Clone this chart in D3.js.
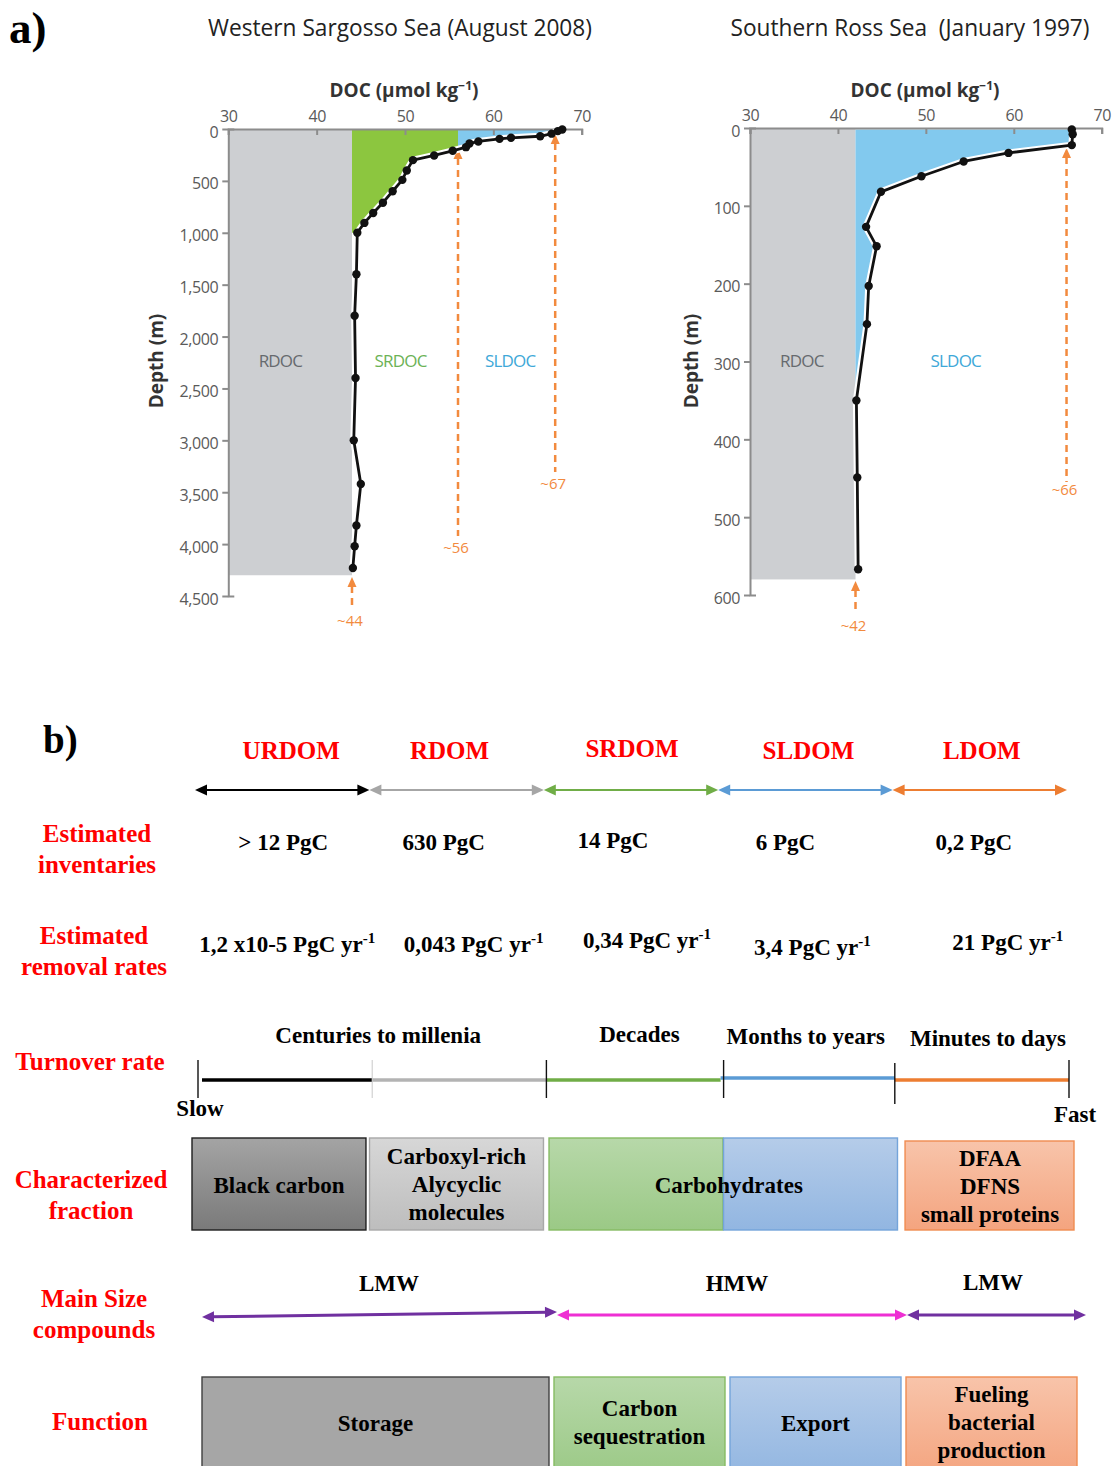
<!DOCTYPE html>
<html>
<head>
<meta charset="utf-8">
<script src="https://cdn.jsdelivr.net/npm/d3@7"></script>
<style>
  body { margin: 0; background: #fff; }
  svg { display: block; }
</style>
</head>
<body>
<svg id="fig" width="1118" height="1466"></svg>
<script>
// ---------------- Panel a: DOC depth profiles ----------------
const docTicks = [30, 40, 50, 60, 70];

// Western Sargasso Sea, August 2008 (depth in m, DOC in µmol kg-1)
const sargassoDepth = [5, 20, 45, 70, 85, 95, 120, 140, 175, 210, 255, 300, 400, 490, 600, 710, 810, 905,
                       1000, 1400, 1800, 2400, 3000, 3420, 3820, 4020, 4230];
const sargassoDOC   = [67.8, 67.3, 66.6, 65.3, 62.0, 60.7, 58.3, 57.3, 56.9, 55.4, 53.3, 50.9, 50.2, 49.7, 48.6, 47.5, 46.4, 45.4,
                       44.6, 44.5, 44.3, 44.4, 44.2, 45.0, 44.5, 44.3, 44.1];
const sargassoDepthTicks = [0, 500, 1000, 1500, 2000, 2500, 3000, 3500, 4000, 4500];
const sargassoPools = ["RDOC", "SRDOC", "SLDOC"];
const sargassoMarkers = [44, 56, 67];

// Southern Ross Sea, January 1997
const rossDepth = [2, 8, 22, 32, 43, 62, 82, 127, 152, 203, 252, 350, 449, 567];
const rossDOC   = [66.6, 66.7, 66.6, 59.4, 54.3, 49.5, 44.9, 43.2, 44.4, 43.5, 43.3, 42.1, 42.2, 42.3];
const rossDepthTicks = [0, 100, 200, 300, 400, 500, 600];
const rossPools = ["RDOC", "SLDOC"];
const rossMarkers = [42, 66];

// ---------------- Panel b: DOM pools summary ----------------
const pools = ["URDOM", "RDOM", "SRDOM", "SLDOM", "LDOM"];
const inventories = ["> 12 PgC", "630 PgC", "14 PgC", "6 PgC", "0,2 PgC"];
const removalRates = ["1,2 x10-5", "0,043", "0,34", "3,4", "21"];
const turnoverLabels = ["Centuries to millenia", "Decades", "Months to years", "Minutes to days"];
const turnoverSpans = [["URDOM", "RDOM"], ["SRDOM", "SRDOM"], ["SLDOM", "SLDOM"], ["LDOM", "LDOM"]];
const fractionBoxes = [["Black carbon"], ["Carboxyl-rich", "Alycyclic", "molecules"], [], [], ["DFAA", "DFNS", "small proteins"]];
const sharedFraction = "Carbohydrates";
const sizeClasses = ["LMW", "HMW", "LMW"];
const sizeSpans = [["URDOM", "RDOM"], ["SRDOM", "SLDOM"], ["LDOM", "LDOM"]];
const functionLabels = [["Storage"], ["Carbon", "sequestration"], ["Export"], ["Fueling", "bacterial", "production"]];
const functionSpans = [["URDOM", "RDOM"], ["SRDOM", "SRDOM"], ["SLDOM", "SLDOM"], ["LDOM", "LDOM"]];
const rowLabels = [["Estimated", "inventaries"], ["Estimated", "removal rates"], ["Turnover rate"],
                   ["Characterized", "fraction"], ["Main Size", "compounds"], ["Function"]];

// ---------------- drawing ----------------
const svg = d3.select("#fig");
const sans = "'Open Sans', 'Noto Sans', sans-serif";
const serif = "'Liberation Serif', 'Times New Roman', serif";
const defs = svg.append("defs");

const poolFill = { RDOC: "#cdcfd2", SRDOC: "#8cc63f", SLDOC: "#82c9ee" };
const poolText = { RDOC: "#666a6e", SRDOC: "#6cb256", SLDOC: "#3ea8d8" };
const markerColor = "#f28a3e";

// panel letters
svg.append("text").attr("x", 9).attr("y", 43).text("a)")
  .style("font-family", serif).style("font-weight", "bold").style("font-size", "45px");
svg.append("text").attr("x", 43).attr("y", 753).text("b)")
  .style("font-family", serif).style("font-weight", "bold").style("font-size", "39px");

function drawProfile(o) {
  const g = svg.append("g");
  const x = d3.scaleLinear().domain([30, 70]).range(o.xRange);
  const y = d3.scaleLinear().domain([0, o.depthTicks[o.depthTicks.length - 1]]).range(o.yRange);
  const pts = o.depth.map((d, i) => ({ depth: d, doc: o.doc[i] }));
  const rdoc = o.markers[0];

  // station title
  g.append("text").attr("x", o.titleX).attr("y", 36).text(o.title)
    .attr("text-anchor", "middle").attr("textLength", o.titleLen).attr("lengthAdjust", "spacingAndGlyphs")
    .style("white-space", "pre").style("font-family", sans).style("font-size", "23px").style("fill", "#222");

  // refractory background block
  g.append("rect").attr("x", x(30)).attr("y", y(0))
    .attr("width", x(rdoc) - x(30)).attr("height", y(o.rdocBottom) - y(0))
    .attr("fill", poolFill.RDOC);

  // excess DOC above the refractory level
  const excess = pts.filter(p => p.depth <= o.excessDepth);
  const area = d3.area().y(p => y(p.depth)).x0(x(rdoc)).x1(p => x(p.doc));
  if (o.split != null) {
    const idA = o.id + "-semi", idB = o.id + "-labile";
    defs.append("clipPath").attr("id", idA).append("rect")
      .attr("x", x(rdoc)).attr("y", 0).attr("width", x(o.split) - x(rdoc)).attr("height", 1466);
    defs.append("clipPath").attr("id", idB).append("rect")
      .attr("x", x(o.split)).attr("y", 0).attr("width", 600).attr("height", 1466);
    g.append("path").datum(excess).attr("d", area).attr("fill", poolFill.SRDOC).attr("clip-path", `url(#${idA})`);
    g.append("path").datum(excess).attr("d", area).attr("fill", poolFill.SLDOC).attr("clip-path", `url(#${idB})`);
  } else {
    g.append("path").datum(excess).attr("d", area).attr("fill", poolFill.SLDOC);
  }

  // axes
  const axisColor = "#8c8c8c";
  const xAxis = d3.axisTop(x).tickValues(docTicks).tickSize(-6).tickSizeOuter(-6).tickPadding(7);
  const gx = g.append("g").attr("transform", `translate(0,${y(0)})`).call(xAxis);
  const yAxis = d3.axisLeft(y).tickValues(o.depthTicks).tickSize(6).tickSizeOuter(-6)
    .tickPadding(4).tickFormat(d3.format(","));
  const gy = g.append("g").attr("transform", `translate(${x(30)},0)`).call(yAxis);
  [gx, gy].forEach(a => {
    a.select(".domain").attr("stroke", axisColor).attr("stroke-width", 2);
    a.selectAll(".tick line").attr("stroke", axisColor).attr("stroke-width", 2);
    a.selectAll(".tick text").style("font-family", sans).style("font-size", "16px")
      .style("letter-spacing", "-0.4px").style("fill", "#5a5a5a");
  });
  gy.selectAll(".tick text").attr("dy", "0.5em");

  // axis titles
  const xt = g.append("text").attr("x", o.xTitleX).attr("y", 97).attr("text-anchor", "middle")
    .style("font-family", sans).style("font-weight", "bold").style("font-size", "19px").style("fill", "#333");
  xt.append("tspan").text("DOC (µmol kg");
  xt.append("tspan").text("−1").attr("dy", -7).style("font-size", "12px");
  xt.append("tspan").text(")").attr("dy", 7);
  g.append("text").attr("transform", `translate(${o.yTitleX},361) rotate(-90)`).attr("text-anchor", "middle")
    .text("Depth (m)").style("font-family", sans).style("font-weight", "bold").style("font-size", "19px").style("fill", "#333");

  // pool labels
  o.pools.forEach((p, i) => {
    g.append("text").attr("x", x(o.poolLabelDOC[i])).attr("y", 367).attr("text-anchor", "middle").text(p)
      .style("font-family", sans).style("font-size", "17px").style("letter-spacing", "-0.8px").style("fill", poolText[p]);
  });

  // dashed marker arrows for each pool boundary
  o.markers.forEach((m, i) => {
    const mx = x(m), [tip, base, labY] = o.markerY[i];
    g.append("line").attr("x1", mx).attr("x2", mx).attr("y1", tip + 9).attr("y2", base)
      .attr("stroke", markerColor).attr("stroke-width", 2.5).attr("stroke-dasharray", "7,5");
    g.append("path").attr("d", `M${mx},${tip}L${mx - 4.5},${tip + 10}L${mx + 4.5},${tip + 10}Z`).attr("fill", markerColor);
    g.append("text").attr("x", mx - 2).attr("y", labY).attr("text-anchor", "middle").text("~" + m)
      .style("font-family", sans).style("font-size", "15px").style("fill", markerColor);
  });

  // profile with white halo
  const line = d3.line().x(p => x(p.doc)).y(p => y(p.depth));
  g.append("path").datum(pts).attr("d", line).attr("fill", "none").attr("stroke", "#fff")
    .attr("stroke-width", 7).attr("stroke-linejoin", "round");
  g.append("path").datum(pts).attr("d", line).attr("fill", "none").attr("stroke", "#111")
    .attr("stroke-width", 2.8).attr("stroke-linejoin", "round");
  g.selectAll("circle.obs").data(pts).join("circle").attr("class", "obs")
    .attr("cx", p => x(p.doc)).attr("cy", p => y(p.depth)).attr("r", 4.2).attr("fill", "#111");
}

drawProfile({
  id: "sargasso", title: "Western Sargosso Sea (August 2008)", titleX: 400, titleLen: 384,
  depth: sargassoDepth, doc: sargassoDOC, depthTicks: sargassoDepthTicks,
  xRange: [228.3, 581.7], yRange: [129, 596], rdocBottom: 4300, excessDepth: 1000, split: 56,
  pools: sargassoPools, poolLabelDOC: [35.9, 49.5, 61.9], markers: sargassoMarkers,
  markerY: [[577, 606, 626], [149, 536, 553], [134, 472, 489]],
  xTitleX: 404, yTitleX: 163
});

drawProfile({
  id: "ross", title: "Southern Ross Sea  (January 1997)", titleX: 910, titleLen: 359,
  depth: rossDepth, doc: rossDOC, depthTicks: rossDepthTicks,
  xRange: [750, 1101.7], yRange: [128, 595], rdocBottom: 580, excessDepth: 350, split: null,
  pools: rossPools, poolLabelDOC: [35.9, 53.4], markers: rossMarkers,
  markerY: [[581, 612, 631], [148, 482, 495]],
  xTitleX: 925, yTitleX: 698
});

// ---------------- Panel b ----------------
const gb = svg.append("g");
const red = "#ff0000";
const blackTxt = (sel, size) => sel.style("font-family", serif).style("font-weight", "bold")
  .style("font-size", (size || 23) + "px").style("fill", "#000");
const poolColors = ["#000000", "#a6a6a6", "#70ad47", "#5b9bd5", "#ed7d31"];

function lines(g, arr, x, y0, lh, styler) {
  const t = g.append("text").attr("text-anchor", "middle");
  arr.forEach((s, i) => t.append("tspan").attr("x", x).attr("y", y0 + i * lh).text(s));
  styler(t);
  return t;
}
function dblArrow(g, x0, x1, y0, y1, color, w, hl, hw) {
  const a = Math.atan2(y1 - y0, x1 - x0), c = Math.cos(a), s = Math.sin(a);
  g.append("line").attr("x1", x0 + c * hl * 0.8).attr("y1", y0 + s * hl * 0.8)
    .attr("x2", x1 - c * hl * 0.8).attr("y2", y1 - s * hl * 0.8)
    .attr("stroke", color).attr("stroke-width", w);
  const head = (tx, ty, dir) => {
    const bx = tx + dir * c * hl, by = ty + dir * s * hl;
    g.append("path").attr("d", `M${tx},${ty}L${bx - s * hw},${by + c * hw}L${bx + s * hw},${by - c * hw}Z`).attr("fill", color);
  };
  head(x0, y0, 1);
  head(x1, y1, -1);
}

// column scale for the pool header rows
const col = d3.scaleBand().domain(pools).range([195, 1067]);
const mid = p => col(p) + col.bandwidth() / 2;

// row labels
const rowLabelPos = [[97, 842], [94, 944], [90, 1070], [91, 1188], [94, 1307], [100, 1430]];
rowLabels.forEach((r, i) => {
  lines(gb, r, rowLabelPos[i][0], rowLabelPos[i][1], 30.5, t => t.style("font-family", serif)
    .style("font-weight", "bold").style("font-size", "25px").style("fill", red));
});

// pool names
const headerShift = [[9, 759], [-7, 759], [1, 757], [3, 759], [2, 759]];
pools.forEach((p, i) => {
  gb.append("text").attr("x", mid(p) + headerShift[i][0]).attr("y", headerShift[i][1])
    .attr("text-anchor", "middle").text(p)
    .style("font-family", serif).style("font-weight", "bold").style("font-size", "25px").style("fill", red);
});

// coloured pool ranges
pools.forEach((p, i) => {
  dblArrow(gb, col(p), col(p) + col.bandwidth(), 790, 790, poolColors[i], 2.2, 12, 5.5);
});

// inventories
const invShift = [[1, 850], [-13, 850], [-18, 848], [-20, 850], [-6, 850]];
inventories.forEach((v, i) => {
  gb.append("text").attr("x", mid(pools[i]) + invShift[i][0]).attr("y", invShift[i][1])
    .attr("text-anchor", "middle").text(v).call(blackTxt);
});

// removal rates
const rateShift = [[5, 952], [17, 952], [16, 948], [7, 955], [28, 950]];
removalRates.forEach((v, i) => {
  const t = gb.append("text").attr("x", mid(pools[i]) + rateShift[i][0]).attr("y", rateShift[i][1])
    .attr("text-anchor", "middle").call(blackTxt);
  t.append("tspan").text(v + " PgC yr");
  t.append("tspan").text("-1").attr("dy", -9).style("font-size", "15px");
});

// turnover scale
const turn = d3.scaleBand().domain(pools).range([198, 1069]);
const turnColors = ["#000000", "#b3b3b3", "#70ad47", "#5b9bd5", "#ed7d31"];
pools.forEach((p, i) => {
  const x0 = turn(p) + (i === 0 ? 4 : 0), x1 = turn(p) + turn.bandwidth();
  const yy = i === 3 ? 1078 : 1080;
  gb.append("line").attr("x1", x0).attr("x2", x1).attr("y1", yy).attr("y2", yy)
    .attr("stroke", turnColors[i]).attr("stroke-width", 3.5);
});
pools.concat(["end"]).forEach((p, i) => {
  const xx = p === "end" ? turn.range()[1] : turn(p) + (i === 3 ? 3 : 0);
  gb.append("line").attr("x1", xx).attr("x2", xx).attr("y1", i === 4 ? 1063 : 1060).attr("y2", i === 4 ? 1104 : 1098)
    .attr("stroke", i === 1 ? "#c8c8c8" : "#111").attr("stroke-width", i === 1 ? 1 : 1.4);
});
const turnY = [1043, 1042, 1044, 1046];
const turnShift = [6, 6, -2, 6];
turnoverLabels.forEach((lab, i) => {
  const [a, b] = turnoverSpans[i];
  const cx = (turn(a) + turn(b) + turn.bandwidth()) / 2 + turnShift[i];
  gb.append("text").attr("x", cx).attr("y", turnY[i]).attr("text-anchor", "middle").text(lab).call(blackTxt);
});
gb.append("text").attr("x", turn.range()[0] + 2).attr("y", 1116).attr("text-anchor", "middle").text("Slow").call(blackTxt);
gb.append("text").attr("x", turn.range()[1] + 6).attr("y", 1122).attr("text-anchor", "middle").text("Fast").call(blackTxt);

// box gradients
const boxStyles = [
  { top: "#a4a4a4", bot: "#7a7a7a", stroke: "#1e1e1e" },
  { top: "#d7d7d7", bot: "#bdbdbd", stroke: "#a8a8a8" },
  { top: "#b7d8a9", bot: "#9bc986", stroke: "#86bb63" },
  { top: "#b5cce9", bot: "#92b6e1", stroke: "#74a4da" },
  { top: "#f8c4aa", bot: "#f4a47f", stroke: "#f08c50" }
];
boxStyles.forEach((s, i) => {
  const lg = defs.append("linearGradient").attr("id", "box" + i).attr("x1", 0).attr("x2", 0).attr("y1", 0).attr("y2", 1);
  lg.append("stop").attr("offset", "0%").attr("stop-color", s.top);
  lg.append("stop").attr("offset", "100%").attr("stop-color", s.bot);
});

// characterized fractions
const frac = d3.scaleBand().domain(pools).range([192, 1076]).paddingInner(0.02).paddingOuter(0);
const fracYOff = [0, 0, 0, 0, 3];
const fracXOff = [0, 0, 2, -1, 3];
pools.forEach((p, i) => {
  gb.append("rect").attr("x", frac(p) + fracXOff[i]).attr("y", 1138 + fracYOff[i])
    .attr("width", frac.bandwidth() - (i === 4 ? 5 : 0)).attr("height", 92 - fracYOff[i])
    .attr("fill", `url(#box${i})`).attr("stroke", boxStyles[i].stroke).attr("stroke-width", 1.4);
});
const fracTextY = [1193, 1164, 0, 0, 1166];
pools.forEach((p, i) => {
  if (!fractionBoxes[i].length) return;
  lines(gb, fractionBoxes[i], frac(p) + fracXOff[i] + frac.bandwidth() / 2 - (i === 4 ? 2 : 0), fracTextY[i], 28, blackTxt);
});
gb.append("text").attr("x", (frac("SRDOM") + frac("SLDOM") + frac.bandwidth()) / 2 + 6).attr("y", 1193)
  .attr("text-anchor", "middle").text(sharedFraction).call(blackTxt);

// size classes
const fn = d3.scaleBand().domain(pools).range([202, 1082]);
const sizeColors = ["#7030a0", "#ee2fd3", "#7030a0"];
sizeClasses.forEach((s, i) => {
  const [a, b] = sizeSpans[i];
  const x0 = fn(a) + (i === 1 ? 3 : i === 2 ? 1 : 0);
  const x1 = fn(b) + fn.bandwidth() + (i === 0 ? 3 : i === 1 ? 1 : 4);
  const y0 = i === 0 ? 1317 : 1315, y1 = i === 0 ? 1312 : 1315;
  dblArrow(gb, x0, x1, y0, y1, sizeColors[i], 3, 12, 5.5);
  const cx = (fn(a) + fn(b) + fn.bandwidth()) / 2 + [11, 7, -1][i];
  gb.append("text").attr("x", cx).attr("y", i === 2 ? 1290 : 1291).attr("text-anchor", "middle").text(s).call(blackTxt);
});

// functions
const fnFill = ["#a6a6a6", "url(#box2)", "url(#box3)", "url(#box4)"];
const fnStroke = ["#404040", "#86bb63", "#74a4da", "#f08c50"];
const fnTextY = [1431, 1416, 1431, 1402];
functionLabels.forEach((labs, i) => {
  const [a, b] = functionSpans[i];
  const x0 = fn(a), x1 = fn(b) + fn.bandwidth() - 5;
  gb.append("rect").attr("x", x0).attr("y", 1377).attr("width", x1 - x0).attr("height", 100)
    .attr("fill", fnFill[i]).attr("stroke", fnStroke[i]).attr("stroke-width", 1.4);
  lines(gb, labs, (x0 + x1) / 2, fnTextY[i], 28, blackTxt);
});
</script>
</body>
</html>
